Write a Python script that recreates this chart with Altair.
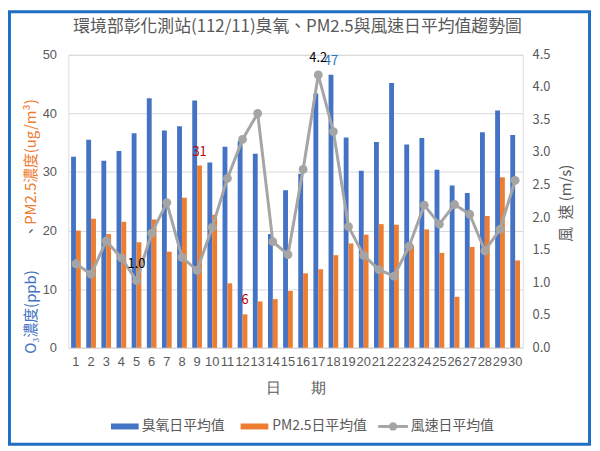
import altair as alt
import pandas as pd

days = list(range(1, 31))
o3 = [32.6, 35.5, 31.9, 33.6, 36.6, 42.6, 37.1, 37.8, 42.2, 31.6,
      34.3, 35.3, 33.1, 19.4, 26.9, 29.7, 43.4, 46.6, 35.9, 30.2,
      35.1, 45.2, 34.7, 35.8, 30.4, 27.7, 26.4, 36.8, 40.5, 36.3]
pm25 = [20.0, 22.0, 19.4, 21.5, 18.0, 21.9, 16.4, 25.6, 31.1, 22.7,
        11.0, 5.7, 7.9, 8.3, 9.7, 12.7, 13.4, 15.8, 17.8, 19.3,
        21.1, 21.0, 17.5, 20.2, 16.2, 8.7, 17.2, 22.5, 29.1, 14.9]
wind = [1.29, 1.13, 1.64, 1.38, 1.03, 1.76, 2.23, 1.39, 1.19, 1.85,
        2.60, 3.20, 3.60, 1.63, 1.43, 2.74, 4.19, 3.32, 1.86, 1.42,
        1.20, 1.10, 1.56, 2.19, 1.90, 2.20, 2.05, 1.49, 1.82, 2.57]

series_names = ["臭氧日平均值", "PM2.5日平均值", "風速日平均值"]
title_text = "環境部彰化測站(112/11)臭氧、PM2.5與風速日平均值趨勢圖"
left_ticks = list(range(0, 55, 5))
right_ticks = [0.0, 0.5, 1.0, 1.5, 2.0, 2.5, 3.0, 3.5, 4.0, 4.5]

# labels shown in chart
bar_label_day = [9, 12, 18]
bar_label_series = ["PM2.5日平均值", "PM2.5日平均值", "臭氧日平均值"]
bar_label_text = ["31", "6", "47"]
bar_label_color = ["#C00000", "#C00000", "#2E75B6"]
wind_label_day = [5, 17]
wind_label_text = ["1.0", "4.2"]

FONT = "Noto Sans CJK TC"
GRAY = "#595959"
BLUE = "#4472C4"
ORANGE = "#ED7D31"
LGRAY = "#A5A5A5"

W, H = 459, 296

bars_df = pd.DataFrame({
    "day": days * 2,
    "series": [series_names[0]] * 30 + [series_names[1]] * 30,
    "value": o3 + pm25,
})
wind_df = pd.DataFrame({"day": days, "wind": wind})

blabels = pd.DataFrame({
    "day": bar_label_day,
    "series": bar_label_series,
    "text": bar_label_text,
    "color": bar_label_color,
})
blabels["value"] = [
    (pm25 if s == series_names[1] else o3)[d - 1]
    for d, s in zip(bar_label_day, bar_label_series)
]
wlabels = pd.DataFrame({
    "day": wind_label_day,
    "text": wind_label_text,
    "wind": [wind[d - 1] for d in wind_label_day],
})
rticks_df = pd.DataFrame({"wind": right_ticks,
                          "lab": [f"{v:.1f}" for v in right_ticks]})

xenc = alt.X("day:O", scale=alt.Scale(paddingInner=0.36, paddingOuter=0.18),
             axis=alt.Axis(title="日　　期", labelAngle=0, ticks=False,
                           domain=True, domainColor="#D9D9D9",
                           labelPadding=8, titlePadding=12,
                           titleFontSize=15, titleFontWeight="normal",
                           titleColor=GRAY, labelColor=GRAY,
                           labelFontSize=13))
sort_order = [series_names[0], series_names[1]]

yleft = alt.Y("value:Q", scale=alt.Scale(domain=[0, 50], nice=False),
              axis=alt.Axis(title=None, values=left_ticks,
                            ticks=False, domain=False, labelPadding=12,
                            gridColor="#D9D9D9", labelColor=GRAY,
                            labelFontSize=13, labelOverlap=False))

bars = alt.Chart(bars_df).mark_bar().encode(
    x=xenc,
    xOffset=alt.XOffset("series:N", sort=sort_order,
                        scale=alt.Scale(paddingInner=0)),
    y=yleft,
    color=alt.Color("series:N", sort=sort_order,
                    scale=alt.Scale(domain=sort_order, range=[BLUE, ORANGE]),
                    legend=None),
)

bar_text = alt.Chart(blabels).mark_text(font=FONT, fontSize=13, dy=-14).encode(
    x="day:O",
    xOffset=alt.XOffset("series:N", sort=sort_order),
    y=alt.Y("value:Q"),
    text="text:N",
    color=alt.Color("color:N", scale=None),
)

# custom legend & titles (pixel positions relative to plot area)
leg_y = 375.5
legend_rects = alt.Chart(pd.DataFrame({"s": series_names[:2],
                                       "x0": [43, 174], "x1": [71, 202]})).mark_rect(height=6).encode(
    x=alt.X("x0:Q", scale=None), x2="x1:Q", y=alt.value(leg_y),
    color=alt.Color("s:N", scale=alt.Scale(domain=sort_order, range=[BLUE, ORANGE]), legend=None),
)
legend_line = alt.Chart(pd.DataFrame({"s": [series_names[2]]})).mark_rule(
    color=LGRAY, strokeWidth=3).encode(
    x=alt.value(313), x2=alt.value(343), y=alt.value(leg_y))
legend_dot = alt.Chart(pd.DataFrame({"s": [series_names[2]]})).mark_point(
    filled=True, color=LGRAY, opacity=1, size=70).encode(
    x=alt.value(328), y=alt.value(leg_y))
legend_text = alt.Chart(pd.DataFrame({"s": series_names,
                                      "x": [74, 206, 346]})).mark_text(
    font=FONT, fontSize=14, color=GRAY, align="left", baseline="middle").encode(
    x=alt.X("x:Q", scale=None), y=alt.value(leg_y), text="s:N")

main_title = alt.Chart(pd.DataFrame({"t": [title_text]})).mark_text(
    font=FONT, fontSize=17, color=GRAY, align="center",
    baseline="middle").encode(x=alt.value(W / 2 + 2), y=alt.value(-28), text="t:N")

ytitle_blue = alt.Chart(pd.DataFrame({"t": ["O₃濃度(ppb)"]})).mark_text(
    font=FONT, fontSize=15, color="#4472C4", angle=270, align="left",
    baseline="middle").encode(x=alt.value(-38), y=alt.value(302), text="t:N")
ytitle_sep = alt.Chart(pd.DataFrame({"t": ["、"]})).mark_text(
    font=FONT, fontSize=15, color=GRAY, angle=270, align="center",
    baseline="middle").encode(x=alt.value(-38), y=alt.value(178), text="t:N")
ytitle_orange = alt.Chart(pd.DataFrame({"t": ["PM2.5濃度(ug/m³)"]})).mark_text(
    font=FONT, fontSize=15, color=ORANGE, angle=270, align="right",
    baseline="middle").encode(x=alt.value(-38), y=alt.value(45), text="t:N")
y2title = alt.Chart(pd.DataFrame({"t": ["風\u2002速 (m/s)"]})).mark_text(
    font=FONT, fontSize=15, color=GRAY, angle=270, align="center",
    baseline="middle").encode(x=alt.value(503), y=alt.value(150), text="t:N")

frame = alt.Chart(pd.DataFrame({"f": [1]})).mark_rect(
    fill=None, stroke="#1F6FC5", strokeWidth=3).encode(
    x=alt.value(-59.5), x2=alt.value(526.5), y=alt.value(-43.5), y2=alt.value(393.5))

left_group = alt.layer(bars, bar_text, legend_rects, legend_line, legend_dot,
                       legend_text, main_title, ytitle_blue, ytitle_sep,
                       ytitle_orange, y2title, frame)

yright = alt.Y("wind:Q", scale=alt.Scale(domain=[0, 4.5], nice=False),
               axis=None)
line = alt.Chart(wind_df).mark_line(
    color=LGRAY, strokeWidth=3,
    point=alt.OverlayMarkDef(filled=True, color=LGRAY, size=80, opacity=1)).encode(
    x="day:O", y=yright)
wind_text = alt.Chart(wlabels).mark_text(font=FONT, fontSize=13, color="#000000", dy=-17).encode(
    x="day:O", y="wind:Q", text="text:N")
rtick_text = alt.Chart(rticks_df).mark_text(
    font=FONT, fontSize=13, color=GRAY, align="left", baseline="middle").encode(
    x=alt.value(W + 10), y="wind:Q", text="lab:N")
right_group = alt.layer(line, wind_text, rtick_text)

chart = alt.layer(left_group, right_group).resolve_scale(
    y="independent", color="independent"
).properties(
    width=W, height=H,
    autosize=alt.AutoSizeParams(type="none"),
    padding={"left": 61, "top": 45, "right": 70, "bottom": 100},
).configure_view(stroke=None).configure_axis(
    labelFont=FONT, titleFont=FONT
).configure(background="white")

chart.save("out.html", embed_options={"renderer": "svg", "actions": False})
